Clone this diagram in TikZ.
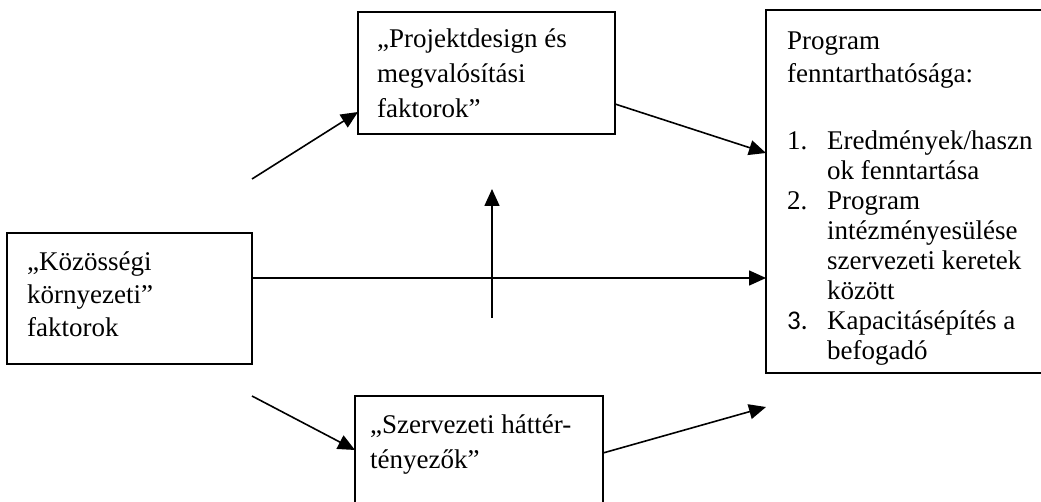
\documentclass[tikz,border=0pt]{standalone}
\usepackage{fontspec}
\setmainfont{Liberation Serif}
\newfontfamily\numfont{Carlito}
\usetikzlibrary{arrows.meta}
\begin{document}
\begin{tikzpicture}[x=1pt,y=-1pt,
  box/.style={draw,line width=1.6pt},
  txt/.style={anchor=north west,align=left,inner sep=0pt,font=\fontsize{27}{33}\selectfont},
  arr/.style={line width=1.6pt,-{Triangle[length=17pt,width=15pt]}}]
\useasboundingbox (0,0) rectangle (1041,502);
\clip (0,0) rectangle (1041,502);
% boxes
\path[box] (7,233) rectangle (252,364);
\path[box] (358,12) rectangle (615,134);
\path[box] (355,396) rectangle (603,530);
\path[box] (766,10) rectangle (1060,373);
% texts
\node[txt] (ltxt) at (27,252) {„Közösségi\\környezeti”\\faktorok};
\node[txt] (ttxt) at (377,29) {„Projektdesign és\\[2pt]megvalósítási\\[2pt]faktorok”};
\node[txt] (btxt) at (370,415) {„Szervezeti háttér-\\[2pt]tényezők”};
\node[txt] (rtxt) at (787,32) {Program\\fenntarthatósága:\\[34pt]
\makebox[40pt][l]{1.}Eredmények/haszn\\[-3pt]
\hspace*{40pt}ok fenntartása\\[-3pt]
\makebox[40pt][l]{2.}Program\\[-3pt]
\hspace*{40pt}intézményesülése\\[-3pt]
\hspace*{40pt}szervezeti keretek\\[-3pt]
\hspace*{40pt}között\\[-3pt]
\makebox[40pt][l]{\numfont 3.}Kapacitásépítés a\\[-3pt]
\hspace*{40pt}befogadó};
% connector endpoints
\coordinate (a1s) at (252,179); \coordinate (a1e) at (358,112);
\coordinate (a2s) at (615,104); \coordinate (a2e) at (766,153);
\coordinate (a3s) at (252,278); \coordinate (a3e) at (766,278);
\coordinate (a4s) at (492,318); \coordinate (a4e) at (492,189);
\coordinate (a5s) at (252,396); \coordinate (a5e) at (355,450);
\coordinate (a6s) at (603,453); \coordinate (a6e) at (766,407);
\draw[arr] (a1s) -- (a1e);
\draw[arr] (a2s) -- (a2e);
\draw[arr] (a3s) -- (a3e);
\draw[arr] (a4s) -- (a4e);
\draw[arr] (a5s) -- (a5e);
\draw[arr] (a6s) -- (a6e);
\end{tikzpicture}
\end{document}
